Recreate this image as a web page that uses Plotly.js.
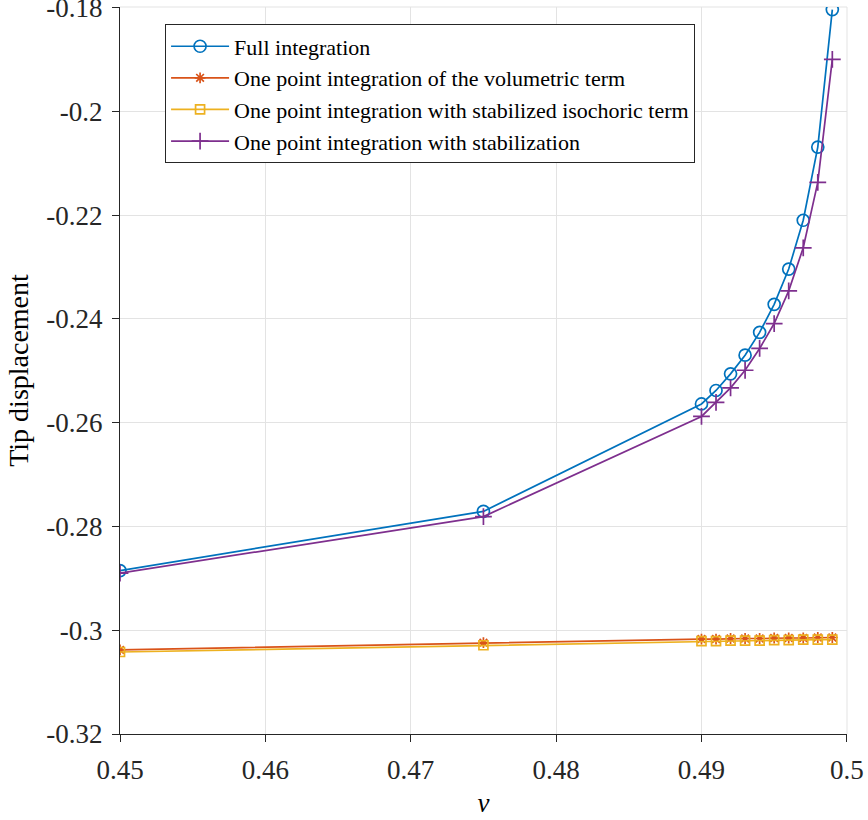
<!DOCTYPE html>
<html>
<head>
<meta charset="utf-8">
<script src="https://cdn.plot.ly/plotly-3.0.1.min.js"></script>
<style>html,body{margin:0;padding:0;background:#fff}#chart{width:868px;height:820px}</style>
</head>
<body>
<div id="chart"></div>
<script>
var nu = [0.45, 0.475, 0.49, 0.491, 0.492, 0.493, 0.494, 0.495, 0.496, 0.497, 0.498, 0.499];
var fullIntegration = [-0.2885, -0.2771, -0.2564, -0.2538, -0.2506, -0.2470, -0.2426, -0.2372, -0.2304, -0.2210, -0.2069, -0.1804];
var onePointVolumetric = [-0.3038, -0.3024, -0.3017, -0.3017, -0.3016, -0.3016, -0.3016, -0.3015, -0.3015, -0.3015, -0.3014, -0.3014];
var onePointIsochoric = [-0.3042, -0.3029, -0.3021, -0.3021, -0.3020, -0.3020, -0.3020, -0.3019, -0.3019, -0.3018, -0.3018, -0.3018];
var onePointStabilized = [-0.2890, -0.2781, -0.2588, -0.2561, -0.2533, -0.2499, -0.2457, -0.2409, -0.2346, -0.2263, -0.2137, -0.1900];
var seriesNames = ["Full integration", "One point integration of the volumetric term", "One point integration with stabilized isochoric term", "One point integration with stabilization"];
var xTicks = [0.45, 0.46, 0.47, 0.48, 0.49, 0.5];
var xTickText = ["0.45", "0.46", "0.47", "0.48", "0.49", "0.5"];
var yTicks = [-0.32, -0.3, -0.28, -0.26, -0.24, -0.22, -0.2, -0.18];
var yTickText = ["-0.32", "-0.3", "-0.28", "-0.26", "-0.24", "-0.22", "-0.2", "-0.18"];

var font = "Liberation Serif, serif";
function tr(y, name, color, symbol, size) {
  return {x: nu, y: y, name: name, type: "scatter", mode: "lines+markers",
    line: {color: color, width: 1.7},
    marker: {symbol: symbol, size: size, color: color, line: {color: color, width: 1.7}}};
}
var data = [
  tr(fullIntegration, seriesNames[0], "#0072BD", "circle-open", 12),
  tr(onePointVolumetric, seriesNames[1], "#D95319", "asterisk-open", 9),
  tr(onePointIsochoric, seriesNames[2], "#EDB120", "square-open", 9),
  tr(onePointStabilized, seriesNames[3], "#7E2F8E", "cross-thin-open", 12)
];
var edgeLine = {color: "#e3e3e3", width: 1};
var tickFont = {family: font, size: 27, color: "#262626"};
var layout = {
  width: 868, height: 820,
  margin: {l: 120, r: 21, t: 7, b: 86},
  paper_bgcolor: "#fff", plot_bgcolor: "#fff",
  font: {family: font, size: 24, color: "#262626"},
  showlegend: true,
  legend: {x: 0.062, y: 0.976, xanchor: "left", yanchor: "top",
    bgcolor: "#fff", bordercolor: "#262626", borderwidth: 1,
    itemwidth: 58,
    font: {family: font, size: 22, color: "#000"}},
  shapes: [
    {type: "line", xref: "paper", yref: "paper", x0: 0, x1: 1, y0: 1, y1: 1, line: edgeLine, layer: "below"},
    {type: "line", xref: "paper", yref: "paper", x0: 1, x1: 1, y0: 0, y1: 1, line: edgeLine, layer: "below"}
  ],
  xaxis: {range: [0.45, 0.50001], tickvals: xTicks, ticktext: xTickText,
    showgrid: true, gridcolor: "#e3e3e3", gridwidth: 1,
    showline: true, linecolor: "#262626", linewidth: 1,
    ticks: "outside", ticklen: 7, tickcolor: "#262626", ticklabelstandoff: 5,
    ticklabeloverflow: "allow",
    zeroline: false, tickfont: tickFont,
    title: {text: "<i>ν</i>", font: {family: font, size: 27, color: "#000"}, standoff: 8}},
  yaxis: {range: [-0.32, -0.1799], tickvals: yTicks, ticktext: yTickText,
    showgrid: true, gridcolor: "#e3e3e3", gridwidth: 1,
    showline: true, linecolor: "#262626", linewidth: 1,
    ticks: "outside", ticklen: 7, tickcolor: "#262626", ticklabelstandoff: 4,
    ticklabeloverflow: "allow",
    zeroline: false, tickfont: tickFont,
    title: {text: "Tip displacement", font: {family: font, size: 28, color: "#000"}, standoff: 9}}
};
Plotly.newPlot("chart", data, layout, {displayModeBar: false, staticPlot: true});
</script>
</body>
</html>
